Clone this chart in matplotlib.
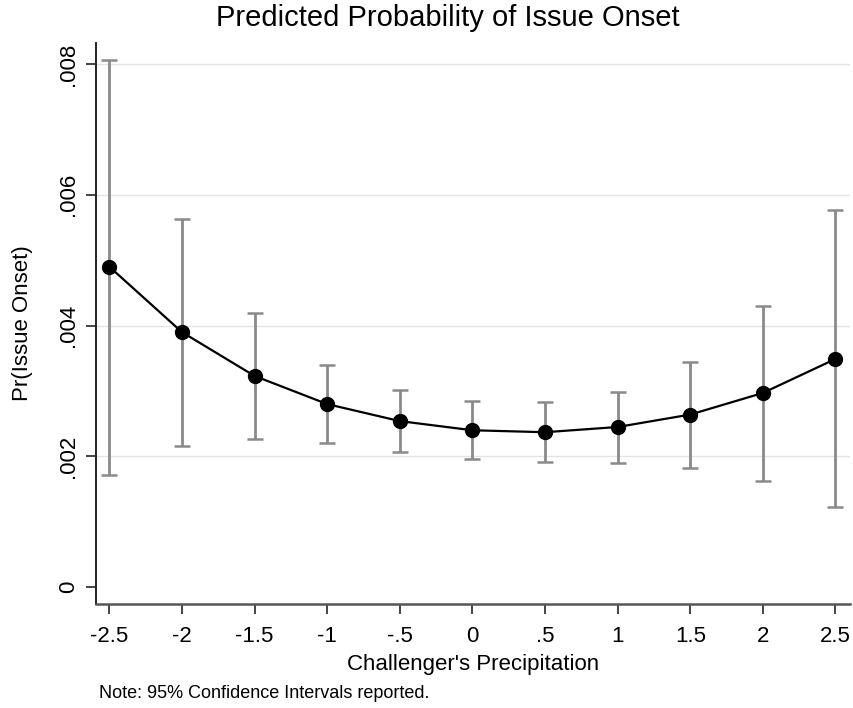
import matplotlib
matplotlib.use("Agg")
import matplotlib.pyplot as plt
from matplotlib.ticker import FixedLocator

plt.rcParams['font.family'] = ['Liberation Sans Narrow', 'Liberation Sans', 'DejaVu Sans']

# Predicted probabilities with 95% CIs
x_vals = [-2.5, -2, -1.5, -1, -0.5, 0, 0.5, 1, 1.5, 2, 2.5]
pred = [0.00490, 0.00390, 0.00323, 0.00280, 0.00254, 0.00240, 0.00237, 0.00245, 0.00264, 0.00297, 0.00349]
ci_low = [0.00172, 0.00216, 0.00226, 0.00220, 0.00207, 0.00196, 0.00191, 0.00190, 0.00183, 0.00163, 0.00122]
ci_high = [0.00806, 0.00563, 0.00420, 0.00340, 0.00301, 0.00285, 0.00283, 0.00299, 0.00344, 0.00430, 0.00576]

x_ticks = [-2.5, -2, -1.5, -1, -0.5, 0, 0.5, 1, 1.5, 2, 2.5]
x_labels = ['-2.5', '-2', '-1.5', '-1', '-.5', '0', '.5', '1', '1.5', '2', '2.5']
y_ticks = [0, 0.002, 0.004, 0.006, 0.008]
y_labels = ['0', '.002', '.004', '.006', '.008']

fig = plt.figure(figsize=(8.54, 7.08), dpi=100)
ax = fig.add_axes([95.7 / 854, 1 - 604 / 708, (850 - 95.7) / 854, (604 - 43) / 708])

# gridlines (not at zero)
for yv in y_ticks[1:]:
    ax.axhline(yv, color='#e4e4e4', lw=1.0, zorder=0)

lower = [p - l for p, l in zip(pred, ci_low)]
upper = [h - p for p, h in zip(pred, ci_high)]
ax.errorbar(x_vals, pred, yerr=[lower, upper], fmt='none', ecolor='#8a8a8a',
            elinewidth=2, capsize=6, capthick=1.8, zorder=2)
ax.plot(x_vals, pred, color='black', lw=1.6, marker='o', ms=10, zorder=3)

ax.set_xlim(-2.594, 2.6)
ax.set_ylim(-0.000256, 0.00832)
ax.xaxis.set_major_locator(FixedLocator(x_ticks))
ax.set_xticklabels(x_labels, fontsize=16)
ax.yaxis.set_major_locator(FixedLocator(y_ticks))
ax.set_yticklabels(y_labels, fontsize=16, rotation=90, va='center')

ax.spines['top'].set_visible(False)
ax.spines['right'].set_visible(False)
ax.spines['left'].set_color('#222222')
ax.spines['bottom'].set_color('#555555')
ax.spines['left'].set_linewidth(1.4)
ax.spines['bottom'].set_linewidth(1.8)
ax.tick_params(axis='x', length=7, width=1.4, color='#444444', pad=9)
ax.tick_params(axis='y', length=7, width=1.4, color='#444444', pad=5)

ax.set_xlabel("Challenger's Precipitation", fontsize=16, labelpad=5)
ax.set_ylabel("Pr(Issue Onset)", fontsize=16, labelpad=18)

fig.text(448 / 854, 1 - 18 / 708, "Predicted Probability of Issue Onset",
         ha='center', va='center', fontsize=21)
fig.text(99 / 854, 1 - 694 / 708, "Note: 95% Confidence Intervals reported.",
         ha='left', va='center', fontsize=13)

fig.savefig("out.png", dpi=100)
